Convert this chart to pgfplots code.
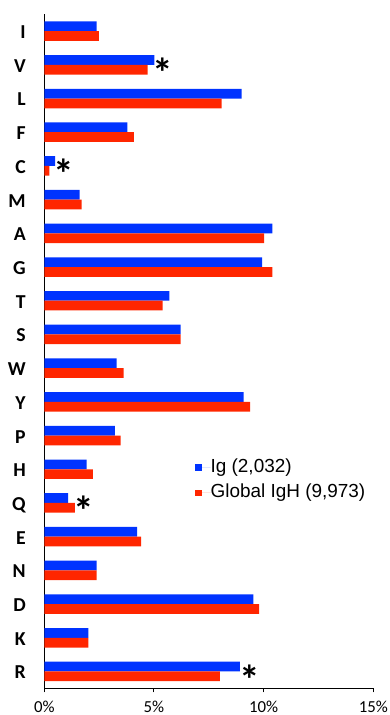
\documentclass[border=0pt]{standalone}
\usepackage{pgfplots}
\pgfplotsset{compat=1.18}
\usepackage{fontspec}
\setmainfont{Carlito}
\newfontfamily\arialfont{Liberation Sans}
\definecolor{igblue}{RGB}{0,51,255}
\definecolor{igred}{RGB}{255,38,0}
\newcommand{\sigstar}{\raisebox{-0.46em}[0.2em][0.2em]{*}}
\begin{document}
\begin{tikzpicture}
\begin{axis}[
  name=ax, scale only axis, width=246.75pt, height=505.5pt,
  xmin=0, xmax=15, ymin=0.5, ymax=20.5,
  axis x line*=bottom, axis y line*=left,
  axis line style={black, line width=0.8pt, -},
  tick align=outside,
  xtick={0,5,10,15}, xticklabels={0\%,5\%,10\%,15\%},
  major tick length=3pt,
  xtick style={black, line width=0.8pt},
  xticklabel style={font=\fontsize{12.6}{12.6}\selectfont, anchor=base, inner sep=0pt, yshift=-14.8pt},
  ytick={1,...,20},
  yticklabels={R,K,D,N,E,Q,H,P,Y,W,S,T,G,A,M,C,F,L,V,I},
  ytick style={draw=none},
  yticklabel style={font=\bfseries\fontsize{14.8}{14.8}\selectfont, anchor=base east, inner sep=0pt, xshift=-10.7pt, yshift=-5.6pt},
  minor ytick={0.5,1.5,...,20.5},
  minor tick length=3.75pt,
  minor y tick style={gray, line width=0.9pt},
  legend style={at={(0.446,0.309)}, anchor=west, draw=none, fill=none,
    font=\arialfont\fontsize{14.2}{17}\selectfont, row sep=5.5pt,
    nodes={inner sep=0pt, text height=10.5pt, text depth=3pt}},
  legend cell align=left,
  legend image code/.code={\fill (0pt,-2.4pt) rectangle (4.8pt,2.4pt); \path (0pt,0pt) -- (11.5pt,0pt);},
  clip=false,
]
\addplot[xbar, bar width=7.3pt, bar shift=3.65pt, fill=igblue, draw=none] coordinates {
 (2.39,20) (5.02,19) (9.00,18) (3.79,17) (0.49,16) (1.61,15) (10.40,14) (9.93,13) (5.70,12) (6.22,11)
 (3.30,10) (9.09,9) (3.22,8) (1.93,7) (1.09,6) (4.23,5) (2.39,4) (9.53,3) (2.01,2) (8.92,1)};
\addlegendentry{Ig (2,032)}
\addplot[xbar, bar width=7.3pt, bar shift=-3.65pt, fill=igred, draw=none] coordinates {
 (2.49,20) (4.71,19) (8.09,18) (4.09,17) (0.23,16) (1.70,15) (10.02,14) (10.40,13) (5.40,12) (6.22,11)
 (3.62,10) (9.39,9) (3.48,8) (2.22,7) (1.40,6) (4.41,5) (2.39,4) (9.79,3) (2.01,2) (8.01,1)};
\addlegendentry{Global IgH (9,973)}
\node[anchor=center, inner sep=0pt, font=\bfseries\fontsize{31}{31}\selectfont] at (axis cs:5.40,18.90) {\sigstar};
\node[anchor=center, inner sep=0pt, font=\bfseries\fontsize{31}{31}\selectfont] at (axis cs:0.90,15.88) {\sigstar};
\node[anchor=center, inner sep=0pt, font=\bfseries\fontsize{31}{31}\selectfont] at (axis cs:1.82,5.90) {\sigstar};
\node[anchor=center, inner sep=0pt, font=\bfseries\fontsize{31}{31}\selectfont] at (axis cs:9.35,0.895) {\sigstar};
\end{axis}
\pgfresetboundingbox
\path ([shift={(-33.2pt,-20pt)}]ax.south west) rectangle ([shift={(12.5pt,10.7pt)}]ax.north east);
\end{tikzpicture}
\end{document}
